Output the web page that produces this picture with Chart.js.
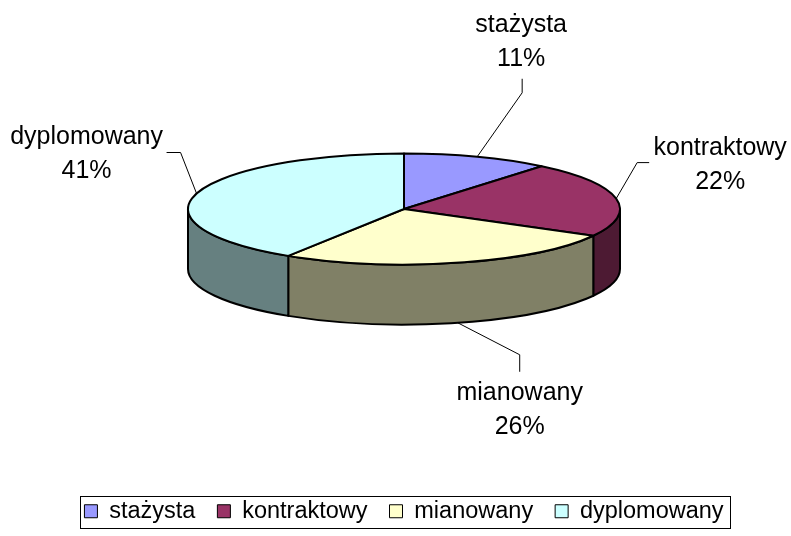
<!DOCTYPE html>
<html lang="pl">
<head>
<meta charset="UTF-8">
<title>Nauczyciele wg stopnia awansu</title>
<script src="https://cdn.jsdelivr.net/npm/chart.js@4.4.1/dist/chart.umd.min.js"></script>
<style>
  html, body { margin: 0; padding: 0; background: #fff; }
  #wrap { width: 791px; height: 536px; position: relative; }
</style>
</head>
<body>
<div id="wrap"><canvas id="pie"></canvas></div>
<script>
// data
const categories = ['stażysta', 'kontraktowy', 'mianowany', 'dyplomowany'];
const shares = [11, 22, 26, 41];

// colours: top faces and the darker side walls
const topColors = ['#9999FF', '#993366', '#FFFFCC', '#CCFFFF'];
const sideColors = ['#4D4D80', '#4D1A33', '#808066', '#668080'];

// look of the fake 3D disc
const PIE_CY = 209;     // screen centre of the top face
const TILT = 0.257;     // ry / rx
const DEPTH = 60;       // wall height

// where each label sits, relative to the point where its leader touches the pie
const labelLayout = [
  { tx: 44, ty: -125, lead: [[45, -78], [45, -64]] },
  { tx: 104, ty: -44, lead: [[33, -36], [21, -36]] },
  { tx: 62, ty: 77, lead: [[62, 49], [62, 32]] },
  { tx: -110, ty: -50, lead: [[-30, -41], [-16, -41]] }
];

const FONT = '"Liberation Sans", Arial, sans-serif';

function discGeometry(chart) {
  const arcs = chart.getDatasetMeta(0).data;
  const rx = arcs[0].outerRadius;
  return { arcs, cx: arcs[0].x, rx, ry: rx * TILT, cy: PIE_CY };
}

const pie3d = {
  id: 'pie3d',
  beforeDatasetsDraw(chart) {
    const ctx = chart.ctx;
    const { arcs, cx, rx, ry, cy } = discGeometry(chart);
    ctx.save();
    ctx.lineWidth = 2;
    ctx.strokeStyle = '#000';
    ctx.lineJoin = 'round';

    // side walls, only the front half is visible
    arcs.forEach((arc, i) => {
      const a = Math.max(arc.startAngle, 0);
      const b = Math.min(arc.endAngle, Math.PI);
      if (a >= b) return;
      ctx.beginPath();
      ctx.ellipse(cx, cy, rx, ry, 0, a, b, false);
      ctx.lineTo(cx + rx * Math.cos(b), cy + ry * Math.sin(b) + DEPTH);
      ctx.ellipse(cx, cy + DEPTH, rx, ry, 0, b, a, true);
      ctx.closePath();
      ctx.fillStyle = sideColors[i];
      ctx.fill();
      ctx.stroke();
    });

    // top faces
    arcs.forEach((arc, i) => {
      ctx.beginPath();
      ctx.moveTo(cx, cy);
      ctx.ellipse(cx, cy, rx, ry, 0, arc.startAngle, arc.endAngle, false);
      ctx.closePath();
      ctx.fillStyle = topColors[i];
      ctx.fill();
      ctx.stroke();
    });
    ctx.restore();
    return false;
  },
  afterDraw(chart) {
    const ctx = chart.ctx;
    const { arcs, cx, rx, ry, cy } = discGeometry(chart);
    const total = shares.reduce((s, v) => s + v, 0);
    ctx.save();

    // data labels with leader lines
    arcs.forEach((arc, i) => {
      const mid = (arc.startAngle + arc.endAngle) / 2;
      const sin = Math.sin(mid);
      const ax = cx + rx * Math.cos(mid);
      const ay = cy + ry * sin + (sin > 0 ? DEPTH : 0);
      const L = labelLayout[i];

      ctx.beginPath();
      ctx.moveTo(ax + L.lead[0][0], ay + L.lead[0][1]);
      ctx.lineTo(ax + L.lead[1][0], ay + L.lead[1][1]);
      ctx.lineTo(ax, ay);
      ctx.lineWidth = 1;
      ctx.strokeStyle = '#000';
      ctx.stroke();

      ctx.fillStyle = '#000';
      ctx.font = '25px ' + FONT;
      ctx.textAlign = 'center';
      ctx.textBaseline = 'alphabetic';
      ctx.fillText(categories[i], ax + L.tx, ay + L.ty);
      ctx.fillText(Math.round(shares[i] / total * 100) + '%', ax + L.tx, ay + L.ty + 34);
    });

    // box around the legend
    const boxes = chart.legend.legendHitBoxes;
    if (boxes && boxes.length) {
      const left = Math.min(...boxes.map(b => b.left)) - 4;
      const right = Math.max(...boxes.map(b => b.left + b.width)) + 7;
      const top = Math.min(...boxes.map(b => b.top)) - 4;
      const bottom = Math.max(...boxes.map(b => b.top + b.height)) + 4;
      ctx.strokeStyle = '#000';
      ctx.lineWidth = 1;
      ctx.strokeRect(Math.round(left) + 0.5, Math.round(top) + 0.5,
                     Math.round(right - left), Math.round(bottom - top));
    }
    ctx.restore();
  }
};

new Chart(document.getElementById('pie'), {
  type: 'pie',
  data: {
    labels: categories,
    datasets: [{
      data: shares,
      backgroundColor: topColors,
      borderColor: '#000',
      borderWidth: 1,
      hoverOffset: 0,
      radius: 216
    }]
  },
  options: {
    responsive: true,
    maintainAspectRatio: false,
    animation: false,
    events: [],
    layout: { padding: { left: 17, right: 0, top: 0, bottom: 3 } },
    plugins: {
      tooltip: { enabled: false },
      legend: {
        position: 'bottom',
        labels: {
          color: '#000',
          font: { family: FONT, size: 23.5 },
          boxWidth: 13,
          boxHeight: 13,
          padding: 22
        }
      }
    }
  },
  plugins: [pie3d]
});
</script>
</body>
</html>
